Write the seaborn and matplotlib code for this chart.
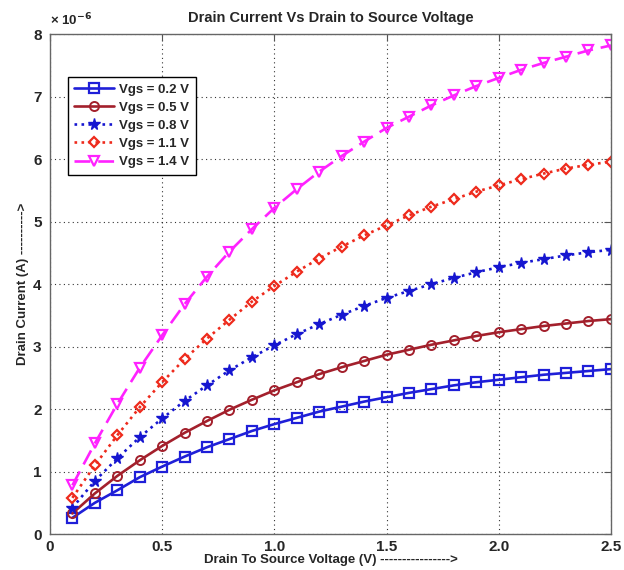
import matplotlib
matplotlib.use("Agg")
import matplotlib.pyplot as plt
import matplotlib.ticker as mticker
import numpy as np
import pandas as pd
import seaborn as sns

# Drain-source voltage sweep (V)
vds = [0.1, 0.2, 0.3, 0.4, 0.5, 0.6, 0.7, 0.8, 0.9, 1.0, 1.1, 1.2, 1.3,
       1.4, 1.5, 1.6, 1.7, 1.8, 1.9, 2.0, 2.1, 2.2, 2.3, 2.4, 2.5]

# Drain current for each gate voltage (micro-amps)
id_vgs_02 = [0.26, 0.50, 0.70, 0.91, 1.08, 1.24, 1.39, 1.52, 1.65, 1.76, 1.86, 1.96, 2.04,
             2.12, 2.19, 2.26, 2.32, 2.38, 2.43, 2.47, 2.51, 2.55, 2.58, 2.61, 2.64]
id_vgs_05 = [0.33, 0.65, 0.93, 1.18, 1.41, 1.62, 1.81, 1.99, 2.15, 2.30, 2.43, 2.56, 2.67,
             2.77, 2.87, 2.95, 3.03, 3.10, 3.17, 3.23, 3.28, 3.33, 3.37, 3.41, 3.44]
id_vgs_08 = [0.42, 0.85, 1.21, 1.55, 1.85, 2.13, 2.38, 2.62, 2.83, 3.02, 3.20, 3.36, 3.51,
             3.65, 3.78, 3.89, 4.00, 4.10, 4.19, 4.27, 4.34, 4.40, 4.46, 4.51, 4.55]
id_vgs_11 = [0.58, 1.10, 1.58, 2.03, 2.43, 2.80, 3.13, 3.43, 3.72, 3.97, 4.20, 4.41, 4.60,
             4.78, 4.94, 5.10, 5.24, 5.36, 5.48, 5.58, 5.68, 5.77, 5.85, 5.91, 5.96]
id_vgs_14 = [0.78, 1.45, 2.08, 2.66, 3.18, 3.68, 4.12, 4.52, 4.88, 5.22, 5.52, 5.80, 6.05,
             6.28, 6.50, 6.68, 6.86, 7.02, 7.17, 7.30, 7.43, 7.54, 7.64, 7.74, 7.82]

series_labels = ["Vgs = 0.2 V", "Vgs = 0.5 V", "Vgs = 0.8 V", "Vgs = 1.1 V", "Vgs = 1.4 V"]
series_values = [id_vgs_02, id_vgs_05, id_vgs_08, id_vgs_11, id_vgs_14]

x_ticks = [0, 0.5, 1.0, 1.5, 2.0, 2.5]
x_tick_labels = ["0", "0.5", "1.0", "1.5", "2.0", "2.5"]
y_ticks = [0, 1, 2, 3, 4, 5, 6, 7, 8]

styles = [
    dict(color="#1f1fd8", marker="s", linestyle="-", markersize=6.5, mfc="none", mew=1.6),
    dict(color="#a3202c", marker="o", linestyle="-", markersize=6.5, mfc="none", mew=1.4),
    dict(color="#1616d0", marker="*", linestyle=":", markersize=8.5, mfc="#1616d0", mew=1.0),
    dict(color="#ee2a1c", marker="D", linestyle=":", markersize=5.5, mfc="none", mew=1.6),
    dict(color="#ff22ff", marker="v", linestyle=(0, (6, 3)), markersize=7.5, mfc="none", mew=1.6),
]

sns.set_theme(style="white")
plt.rcParams["font.family"] = ["Liberation Sans", "DejaVu Sans"]
plt.rcParams["font.weight"] = "bold"
plt.rcParams["mathtext.default"] = "bf"

fig = plt.figure(figsize=(6.24, 5.70), dpi=100)
ax = fig.add_axes([0.080, 0.063, 0.899, 0.877])

for label, vals, st in zip(series_labels, series_values, styles):
    df = pd.DataFrame({"vds": vds, "id": np.array(vals) * 1e-6})
    sns.lineplot(data=df, x="vds", y="id", ax=ax, label=label, color=st["color"],
                 linestyle=st["linestyle"], linewidth=1.9, marker=st["marker"],
                 markersize=st["markersize"], markerfacecolor=st["mfc"],
                 markeredgecolor=st["color"], markeredgewidth=st["mew"])

ax.set_xlim(0, 2.5)
ax.set_ylim(0, 8e-6)
ax.set_xticks(x_ticks)
ax.set_xticklabels(x_tick_labels)
ax.set_yticks(np.array(y_ticks) * 1e-6)
ax.yaxis.set_major_formatter(mticker.FuncFormatter(lambda v, p: f"{v * 1e6:.0f}"))
ax.text(0.0, 1.012, r"× 10$^{-6}$", transform=ax.transAxes, fontsize=9.5,
        fontweight="bold", ha="left", va="bottom")

ax.grid(True, color="black", linestyle=(0, (1, 3)), linewidth=0.8, alpha=0.8)
ax.tick_params(direction="in", top=True, right=True, length=5, width=0.8,
               labelsize=11, color="#555555")
ax.tick_params(axis="x", pad=4)
ax.tick_params(axis="y", pad=6)
for lbl in ax.get_xticklabels() + ax.get_yticklabels():
    lbl.set_fontweight("bold")
for sp in ax.spines.values():
    sp.set_color("#666666")
    sp.set_linewidth(1.0)

ax.set_title("Drain Current Vs Drain to Source Voltage", fontsize=10.5, fontweight="bold", pad=9)
ax.set_xlabel("Drain To Source Voltage (V) ---------------->", fontsize=9.5, fontweight="bold", labelpad=0)
ax.set_ylabel("Drain Current (A) ---------->", fontsize=9.5, fontweight="bold", labelpad=3)

leg = ax.legend(loc="upper left", bbox_to_anchor=(0.032, 0.915), frameon=True, fancybox=False,
                framealpha=1, edgecolor="black", prop={"weight": "bold", "size": 9.5},
                handlelength=3.0, borderpad=0.5, labelspacing=0.45, handletextpad=0.4,
                borderaxespad=0)
leg.get_frame().set_linewidth(1.0)

fig.savefig("out.png", dpi=100)
